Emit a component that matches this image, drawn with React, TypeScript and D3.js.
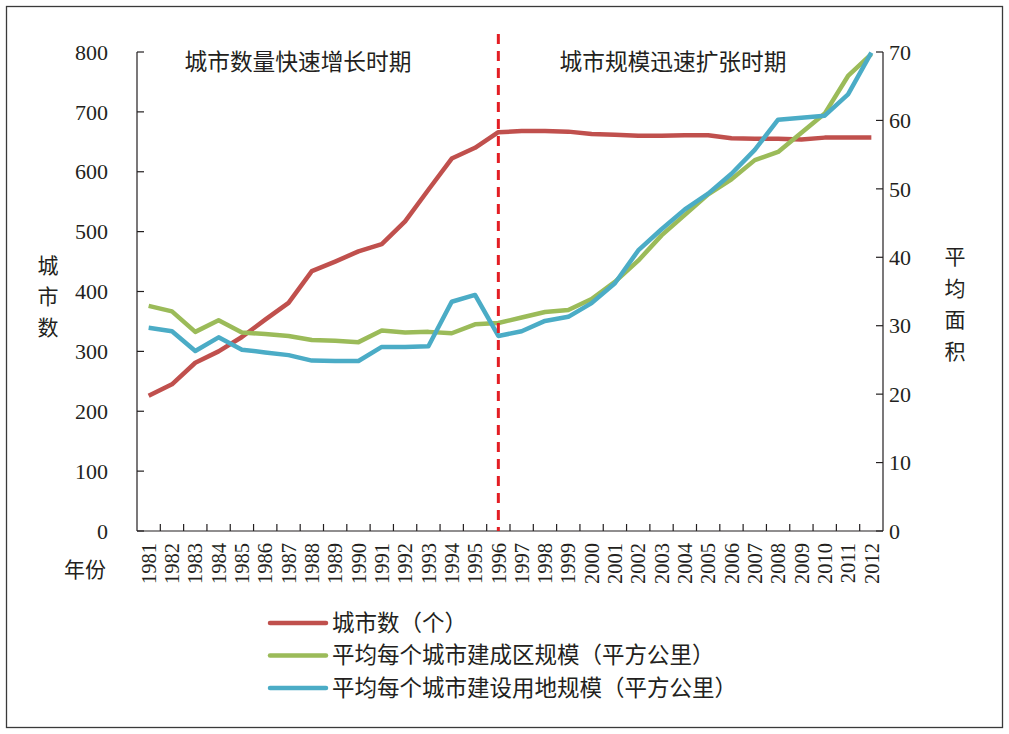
import React from "react";
import * as d3 from "d3";

const years = [
  "1981","1982","1983","1984","1985","1986","1987","1988","1989","1990",
  "1991","1992","1993","1994","1995","1996","1997","1998","1999","2000",
  "2001","2002","2003","2004","2005","2006","2007","2008","2009","2010",
  "2011","2012",
];
const cityCount = [
  226, 245, 281, 300, 324, 353, 381, 434, 450, 467,
  479, 517, 570, 622, 640, 666, 668, 668, 667, 663,
  662, 660, 660, 661, 661, 656, 655, 655, 654, 657,
  657, 657,
];
const builtArea = [
  32.9, 32.1, 29.1, 30.8, 29.0, 28.8, 28.5, 27.9, 27.8, 27.6,
  29.3, 29.0, 29.1, 28.9, 30.2, 30.4, 31.2, 32.0, 32.3, 33.9,
  36.4, 39.5, 43.2, 46.2, 49.2, 51.4, 54.2, 55.4, 58.2, 61.0,
  66.5, 69.7,
];
const landArea = [
  29.7, 29.2, 26.3, 28.3, 26.5, 26.1, 25.7, 24.9, 24.85, 24.85,
  26.9, 26.9, 27.0, 33.5, 34.5, 28.5, 29.2, 30.7, 31.3, 33.3,
  36.2, 41.0, 44.1, 47.0, 49.3, 52.2, 55.7, 60.1, 60.4, 60.7,
  63.8, 69.9,
];
const leftTicks = [0, 100, 200, 300, 400, 500, 600, 700, 800];
const rightTicks = [0, 10, 20, 30, 40, 50, 60, 70];
const legendLabels = [
  "城市数（个）",
  "平均每个城市建成区规模（平方公里）",
  "平均每个城市建设用地规模（平方公里）",
];
const periodLabels = ["城市数量快速增长时期", "城市规模迅速扩张时期"];
const dividerYear = "1996";

const RED = "#c0504d";
const GREEN = "#9bbb59";
const BLUE = "#4bacc6";
const INK = "#231f20";
const SERIF = "'Liberation Serif', 'DejaVu Serif', serif";
const CJK = "'Noto Sans CJK SC', sans-serif";

export default function App() {
  const W = 1009, H = 734;
  const left = 137, right = 883, top = 52, bottom = 531;
  const x = d3.scaleBand<string>().domain(years).range([left, right]);
  const cx = (y: string) => (x(y) as number) + x.bandwidth() / 2;
  const yL = d3.scaleLinear().domain([0, 800]).range([bottom, top]);
  const yR = d3.scaleLinear().domain([0, 70]).range([bottom, top]);

  const lineL = d3.line<number>().x((_, i) => cx(years[i])).y((d) => yL(d));
  const lineR = d3.line<number>().x((_, i) => cx(years[i])).y((d) => yR(d));

  const series = [
    { d: lineL(cityCount), c: RED },
    { d: lineR(builtArea), c: GREEN },
    { d: lineR(landArea), c: BLUE },
  ];
  const legendColors = [RED, GREEN, BLUE];
  const divX = cx(dividerYear);

  return (
    <svg
      width={W}
      height={H}
      style={{ position: "absolute", left: 0, top: 0, background: "#fff" }}
    >
      <rect x={6.5} y={6.5} width={996} height={721} fill="#fff" stroke="#3a3a3a" strokeWidth={1.3} />

      {/* axes */}
      <g stroke={INK} strokeWidth={1.2} fill="none">
        <line x1={left} x2={left} y1={top} y2={bottom} />
        <line x1={right} x2={right} y1={top} y2={bottom} />
        <line x1={left} x2={right} y1={bottom} y2={bottom} />
        {leftTicks.map((t) => (
          <line key={"lt" + t} x1={left} x2={left + 7} y1={yL(t)} y2={yL(t)} />
        ))}
        {rightTicks.map((t) => (
          <line key={"rt" + t} x1={right - 7} x2={right} y1={yR(t)} y2={yR(t)} />
        ))}
        {years.slice(1).map((yr) => (
          <line key={"xt" + yr} x1={x(yr)} x2={x(yr)} y1={bottom} y2={bottom - 7} />
        ))}
      </g>

      {/* tick labels */}
      <g fontFamily={SERIF} fontSize={22} fill={INK}>
        {leftTicks.map((t) => (
          <text key={"ll" + t} x={108} y={yL(t)} dy="0.35em" textAnchor="end">
            {t}
          </text>
        ))}
        {rightTicks.map((t) => (
          <text key={"rl" + t} x={889} y={yR(t)} dy="0.35em" textAnchor="start">
            {t}
          </text>
        ))}
      </g>
      <g fontFamily={SERIF} fontSize={20.5} fill={INK}>
        {years.map((yr) => (
          <text
            key={"xl" + yr}
            transform={`translate(${cx(yr)},543) rotate(-90)`}
            textAnchor="end"
            dy="0.35em"
          >
            {yr}
          </text>
        ))}
      </g>

      {/* axis titles */}
      <g fontFamily={CJK} fontSize={21} fill={INK} textAnchor="middle">
        {"城市数".split("").map((ch, i) => (
          <text key={"a" + i} x={48} y={266 + i * 31} dy="0.35em">{ch}</text>
        ))}
        {"平均面积".split("").map((ch, i) => (
          <text key={"b" + i} x={955} y={257 + i * 31.5} dy="0.35em">{ch}</text>
        ))}
        <text x={85} y={570} dy="0.35em">年份</text>
      </g>

      {/* period labels */}
      <g fontFamily={CJK} fontSize={22.7} fill={INK} textAnchor="middle">
        <text x={298} y={62} dy="0.35em">{periodLabels[0]}</text>
        <text x={673} y={62} dy="0.35em">{periodLabels[1]}</text>
      </g>

      {/* lines */}
      {series.map((s, i) => (
        <path key={"s" + i} d={s.d || ""} fill="none" stroke={s.c} strokeWidth={4.5} strokeLinejoin="round" />
      ))}

      {/* divider */}
      <line x1={divX} x2={divX} y1={34} y2={bottom} stroke="#e31e24" strokeWidth={3} strokeDasharray="10 7" />

      {/* legend */}
      <g>
        {legendLabels.map((lab, i) => {
          const ly = 623 + i * 32.5;
          return (
            <g key={"lg" + i}>
              <line x1={270} x2={326} y1={ly} y2={ly} stroke={legendColors[i]} strokeWidth={4.5} strokeLinecap="round" />
              <text x={332} y={ly} dy="0.35em" fontFamily={CJK} fontSize={22.5} fill={INK}>
                {lab}
              </text>
            </g>
          );
        })}
      </g>
    </svg>
  );
}
